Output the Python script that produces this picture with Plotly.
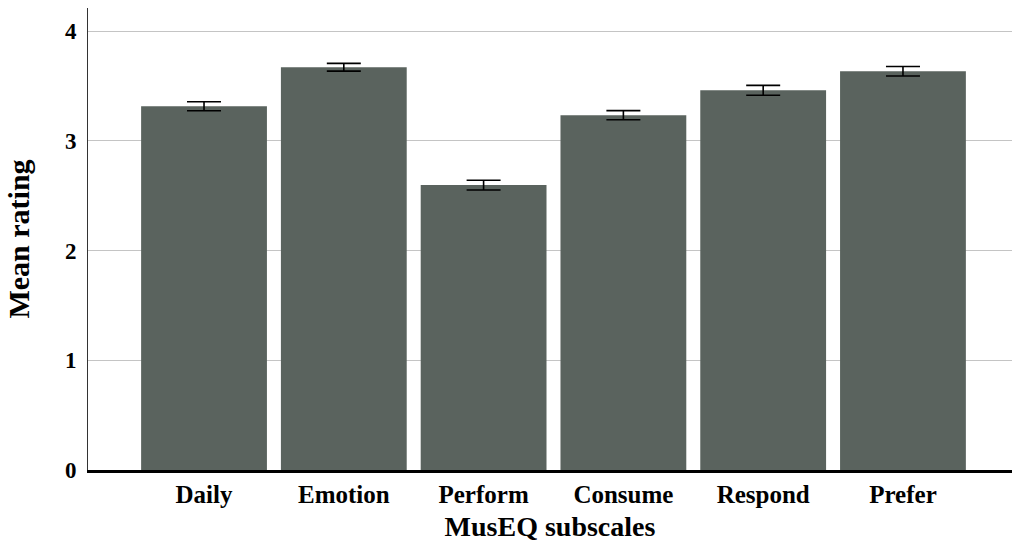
import plotly.graph_objects as go

categories = ["Daily", "Emotion", "Perform", "Consume", "Respond", "Prefer"]
means = [3.315, 3.67, 2.596, 3.233, 3.46, 3.634]
errors = [0.041, 0.035, 0.045, 0.042, 0.045, 0.043]
y_ticks = [0, 1, 2, 3, 4]

FONT = "Liberation Serif"

fig = go.Figure()
fig.add_trace(go.Bar(
    x=list(range(len(categories))),
    y=means,
    marker=dict(color="#5a635e", line=dict(width=0)),
    error_y=dict(type="data", array=errors, visible=True,
                 color="black", thickness=1.6, width=17),
    width=0.9,
))

fig.update_layout(
    width=1012, height=545,
    margin=dict(l=88, r=0, t=8, b=75),
    plot_bgcolor="white", paper_bgcolor="white",
    showlegend=False,
    font=dict(family=FONT, color="black"),
    xaxis=dict(
        range=[-0.83, 5.78],
        tickmode="array",
        tickvals=list(range(len(categories))),
        ticktext=["<b>%s</b>" % c for c in categories],
        tickfont=dict(family=FONT, size=25, color="black"),
        showgrid=False, zeroline=False,
        showline=True, linecolor="black", linewidth=3,
        ticks="", automargin=False,
        title=dict(text="<b>MusEQ subscales</b>", font=dict(family=FONT, size=28, color="black"), standoff=10),
    ),
    yaxis=dict(
        range=[0, 4.21],
        tickmode="array",
        tickvals=y_ticks,
        ticktext=["<b>%d</b>" % v for v in y_ticks],
        tickfont=dict(family=FONT, size=23, color="black"),
        showgrid=True, gridcolor="#c4c4c4", gridwidth=1,
        zeroline=False,
        showline=True, linecolor="#333333", linewidth=1,
        ticks="", ticklabelstandoff=6, automargin=False,
        title=dict(text="<b>Mean rating</b>", font=dict(family=FONT, size=30, color="black"), standoff=26),
    ),
)

fig.write_html("out.html", post_script="document.body.style.margin='0px';",
               config={"displayModeBar": False})
